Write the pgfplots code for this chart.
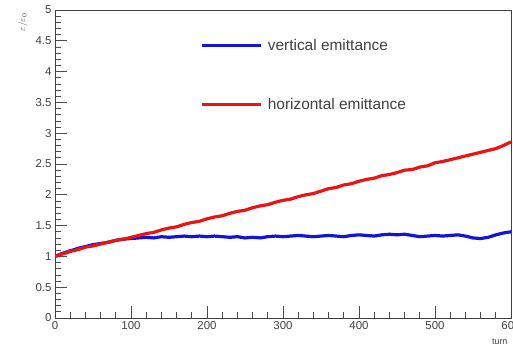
\documentclass[border=0pt]{standalone}
\usepackage{pgfplots}
\pgfplotsset{compat=1.18}
\usepackage{fontspec}
\setmainfont{Liberation Sans}
\definecolor{rblue}{RGB}{20,20,215}
\definecolor{rred}{RGB}{235,20,20}
\begin{document}
\begin{tikzpicture}
\begin{axis}[
  scale only axis,
  width=456bp, height=308bp,
  xmin=0, xmax=600, ymin=0, ymax=5,
  xtick={0,100,...,600}, ytick={0,0.5,...,5},
  minor x tick num=4, minor y tick num=4,
  tick align=inside, tick pos=left,
  major tick length=12bp, minor tick length=6bp,
  axis line style={black!75, line width=0.8bp},
  every tick/.style={black!70, line width=0.7bp},
  ticklabel style={font=\fontsize{11.5}{12}\selectfont, text=black!75},
  /pgf/number format/assume math mode=true,
  yticklabel style={/pgf/number format/.cd, fixed, precision=1},
  scaled ticks=false,
  xlabel={turn}, ylabel={$\varepsilon/\varepsilon_0$},
  every axis x label/.style={at={(rel axis cs:1,0)}, yshift=-17bp, anchor=north east, font=\fontsize{9}{10}\selectfont, text=black!75},
  every axis y label/.style={at={(rel axis cs:0,1)}, xshift=-32bp, anchor=east, rotate=90, font=\fontsize{9.5}{10}\selectfont, text=black!75},
  legend style={draw=none, fill=none, at={(rel axis cs:0.319,0.912)}, anchor=north west, row sep=42bp, font=\fontsize{15.5}{16}\selectfont, text=black!75, inner sep=0pt},
  legend cell align=left,
  legend image code/.code={\draw[#1] (0bp,0bp) -- (59bp,0bp); \path (62bp,0bp);},
]
\addplot[rblue, line width=3.2bp] coordinates {
(0,1.00) (10,1.05) (20,1.09) (30,1.13) (40,1.16) (50,1.19) (60,1.21) (70,1.23) (80,1.26) (90,1.28)
(100,1.29) (110,1.30) (120,1.31) (130,1.30) (140,1.32) (150,1.31) (160,1.32) (170,1.33) (180,1.32) (190,1.33)
(200,1.32) (210,1.33) (220,1.32) (230,1.31) (240,1.32) (250,1.30) (260,1.31) (270,1.30) (280,1.32) (290,1.33)
(300,1.32) (310,1.33) (320,1.34) (330,1.33) (340,1.32) (350,1.33) (360,1.34) (370,1.33) (380,1.32) (390,1.34)
(400,1.35) (410,1.34) (420,1.33) (430,1.35) (440,1.36) (450,1.35) (460,1.36) (470,1.34) (480,1.32) (490,1.33)
(500,1.34) (510,1.33) (520,1.34) (530,1.35) (540,1.33) (550,1.30) (560,1.29) (570,1.31) (580,1.35) (590,1.38) (600,1.40)
};
\addlegendentry{vertical emittance}
\addplot[rred, line width=3.2bp] coordinates {
(0,1.00) (10,1.04) (20,1.08) (30,1.11) (40,1.15) (50,1.17) (60,1.20) (70,1.23) (80,1.26) (90,1.28)
(100,1.31) (110,1.34) (120,1.37) (130,1.39) (140,1.43) (150,1.46) (160,1.48) (170,1.52) (180,1.55) (190,1.57)
(200,1.61) (210,1.64) (220,1.66) (230,1.70) (240,1.73) (250,1.75) (260,1.79) (270,1.82) (280,1.84) (290,1.88)
(300,1.91) (310,1.93) (320,1.97) (330,2.00) (340,2.02) (350,2.06) (360,2.10) (370,2.12) (380,2.16) (390,2.18)
(400,2.22) (410,2.25) (420,2.27) (430,2.31) (440,2.33) (450,2.36) (460,2.40) (470,2.41) (480,2.45) (490,2.47)
(500,2.52) (510,2.54) (520,2.57) (530,2.60) (540,2.63) (550,2.66) (560,2.69) (570,2.72) (580,2.75) (590,2.80) (600,2.86)
};
\addlegendentry{horizontal emittance}
\end{axis}
\pgfresetboundingbox
\path[use as bounding box] (-55bp,-28bp) rectangle (458bp,318bp);
\end{tikzpicture}
\end{document}
